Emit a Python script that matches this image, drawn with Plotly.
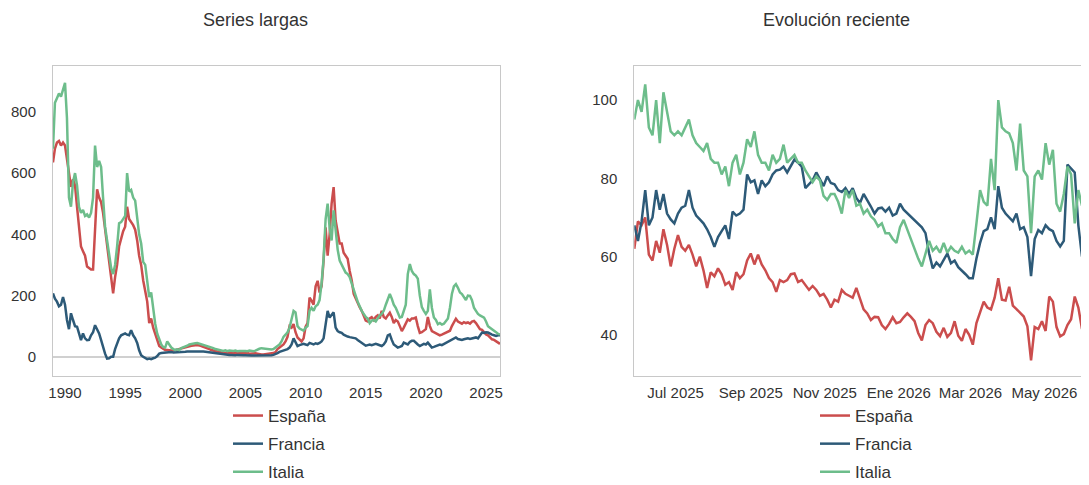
import pandas as pd
import plotly.graph_objects as go

# ---------------- data: long series (bi-monthly, Jan 1989 .. Mar 2026) ----------------
long_start = "1989-01-01"
long_freq = "2MS"

espana_long = [
    635, 680, 700, 705, 690, 700,      # 1989
    690, 640, 590, 555, 580, 560,      # 1990
    490, 420, 360, 345, 330, 295,      # 1991
    290, 285, 285, 400, 547, 520,      # 1992
    505, 470, 420, 360, 315, 270,      # 1993
    207, 260, 300, 360, 390, 410,      # 1994
    425, 490, 450, 440, 430, 415,      # 1995
    380, 330, 300, 250, 207, 180,      # 1996
    110, 125, 95, 76, 55, 35,          # 1997
    30, 25, 22, 22, 20, 20,            # 1998
    20, 22, 24, 26, 28, 30,            # 1999
    30, 32, 34, 36, 37, 38,            # 2000
    38, 37, 35, 33, 30, 27,            # 2001
    25, 22, 20, 18, 16, 15,            # 2002
    14, 13, 13, 12, 13, 12,            # 2003
    12, 12, 11, 12, 12, 11,            # 2004
    11, 12, 10, 11, 10, 11,            # 2005
    10, 8, 7, 7, 8, 7,                 # 2006
    8, 9, 12, 15, 25, 30,              # 2007
    35, 40, 50, 65, 100, 95,           # 2008
    107, 80, 63, 55, 50, 60,           # 2009
    98, 110, 193, 183, 170, 230,       # 2010
    248, 210, 230, 314, 423, 330,      # 2011
    400, 500, 554, 445, 400, 370,      # 2012
    370, 340, 330, 320, 280, 250,      # 2013
    205, 190, 175, 162, 150, 135,      # 2014
    118, 115, 125, 129, 120, 130,      # 2015
    135, 125, 150, 130, 125, 135,      # 2016
    144, 130, 110, 120, 115, 100,      # 2017
    84, 95, 110, 122, 118, 125,        # 2018
    125, 128, 100, 78, 80, 85,         # 2019
    90, 130, 100, 84, 80, 75,          # 2020
    73, 70, 72, 75, 78, 80,            # 2021
    85, 100, 110, 124, 115, 110,       # 2022
    108, 113, 110, 112, 108, 115,      # 2023
    117, 110, 100, 90, 88, 80,         # 2024
    73, 70, 65, 57, 55, 50,            # 2025
    46, 42,                            # 2026
]

francia_long = [
    207, 190, 180, 165, 170, 195,      # 1989
    170, 120, 90, 142, 120, 100,       # 1990
    98, 80, 54, 76, 60, 54,            # 1991
    55, 70, 80, 103, 90, 76,           # 1992
    54, 30, 10, -6, -5, 0,             # 1993
    0, 25, 45, 60, 70, 72,             # 1994
    76, 72, 70, 87, 70, 60,            # 1995
    45, 21, 5, 0, -5, -8,              # 1996
    -6, -8, -5, -3, 2, 10,             # 1997
    12, 13, 14, 14, 15, 15,            # 1998
    14, 14, 15, 15, 16, 16,            # 1999
    16, 17, 17, 18, 18, 19,            # 2000
    19, 19, 18, 17, 16, 15,            # 2001
    14, 13, 12, 11, 10, 9,             # 2002
    8, 7, 7, 6, 6, 6,                  # 2003
    5, 5, 6, 5, 5, 5,                  # 2004
    5, 4, 5, 4, 4, 4,                  # 2005
    4, 3, 3, 4, 3, 3,                  # 2006
    4, 5, 6, 8, 12, 16,                # 2007
    18, 20, 22, 25, 30, 40,            # 2008
    60, 45, 35, 38, 40, 42,            # 2009
    40, 38, 45, 42, 40, 44,            # 2010
    42, 45, 50, 60, 110, 150,          # 2011
    128, 135, 145, 95, 84, 80,         # 2012
    78, 72, 68, 66, 64, 63,            # 2013
    63, 60, 55, 50, 45, 40,            # 2014
    36, 38, 40, 38, 40, 42,            # 2015
    40, 38, 35, 40, 50, 70,            # 2016
    73, 55, 40, 35, 30, 32,            # 2017
    35, 46, 44, 40, 48, 52,            # 2018
    52, 45, 40, 35, 38, 42,            # 2019
    40, 46, 38, 30, 32, 35,            # 2020
    36, 40, 38, 42, 45, 48,            # 2021
    52, 55, 60, 63, 58, 57,            # 2022
    55, 57, 58, 60, 58, 60,            # 2023
    62, 63, 60, 70, 79, 78,            # 2024
    80, 79, 75, 72, 70, 68,            # 2025
    70, 70,                            # 2026
]

italia_long = [
    680, 830, 845, 860, 850, 875,      # 1989
    895, 780, 520, 490, 570, 600,      # 1990
    560, 490, 470, 480, 460, 465,      # 1991
    455, 470, 520, 690, 620, 640,      # 1992
    620, 520, 425, 380, 330, 290,      # 1993
    270, 300, 360, 436, 440, 450,      # 1994
    460, 600, 540, 545, 520, 510,      # 1995
    460, 400, 370, 310, 300, 240,      # 1996
    195, 210, 150, 108, 75, 55,        # 1997
    40, 32, 30, 50, 40, 30,            # 1998
    25, 22, 24, 22, 28, 30,            # 1999
    33, 36, 40, 42, 43, 44,            # 2000
    45, 43, 42, 40, 38, 35,            # 2001
    32, 30, 28, 25, 24, 22,            # 2002
    20, 19, 21, 18, 20, 19,            # 2003
    19, 20, 18, 19, 20, 19,            # 2004
    19, 18, 20, 19, 18, 20,            # 2005
    24, 26, 28, 27, 26, 27,            # 2006
    26, 24, 25, 30, 38, 40,            # 2007
    50, 65, 72, 80, 95, 120,           # 2008
    150, 145, 100, 92, 88, 85,         # 2009
    95, 100, 150, 160, 150, 165,       # 2010
    170, 185, 240, 320, 450, 500,      # 2011
    420, 380, 478, 400, 350, 314,      # 2012
    300, 290, 275, 270, 260, 240,      # 2013
    215, 200, 180, 162, 150, 140,      # 2014
    130, 125, 110, 118, 120, 115,      # 2015
    125, 135, 140, 150, 170, 185,      # 2016
    205, 190, 170, 160, 140, 128,      # 2017
    130, 150, 170, 270, 303, 280,      # 2018
    270, 265, 255, 200, 162, 150,      # 2019
    140, 150, 220, 160, 128, 120,      # 2020
    106, 110, 105, 108, 117, 125,      # 2021
    160, 205, 230, 237, 225, 210,      # 2022
    205, 195, 185, 200, 199, 185,      # 2023
    160, 150, 140, 135, 130, 128,      # 2024
    115, 100, 95, 90, 85, 78,          # 2025
    75, 72,                            # 2026
]

# ---------------- data: recent series (every 3 days from 28 May 2025) ----------------
recent_start = "2025-05-28"
recent_freq = "3D"

espana_recent = [
    62, 69, 68, 70, 60.5, 59, 64, 61, 67, 63,
    57.5, 62, 65.5, 62.5, 61.5, 63, 60.5, 57.5, 60, 56.5,
    52, 56, 55, 57, 55.5, 52.8, 53.5, 51.5, 56, 54.5,
    55.5, 59, 60.8, 58, 60.5, 58, 56.5, 54.5, 53.5, 51,
    54, 53.5, 54, 55.5, 55.7, 53.5, 54, 52.8, 51.5, 52.5,
    51.5, 50, 50.5, 49, 47, 49, 48.5, 51.5, 50.5, 50,
    49.5, 52, 49.5, 46.5, 45.5, 43.8, 44.6, 44.5, 42.5, 41.5,
    42.8, 44.5, 43, 43.3, 44.5, 45.5, 44.6, 43.5, 40.5, 38.6,
    42.5, 43.8, 43, 40.8, 39.7, 41.8, 39.5, 40.5, 43.5, 39.8,
    38.5, 41.5, 40, 37.5, 43, 46, 48.5, 47, 46.5, 49.5,
    54.5, 49, 48.8, 52.3, 47.5, 46.6, 45.7, 44.7, 42.2, 33.5,
    42, 41.5, 43.5, 41, 49.8, 48.5, 42, 39.6, 40.2, 42.5,
    44, 49.8, 47, 41.5,
]

francia_recent = [
    68, 64, 69, 77, 68, 70, 77, 72, 76, 71,
    69.5, 68.5, 71, 72.5, 73, 77, 72.5, 70.5, 69.5, 68.5,
    67, 65, 62.5, 65, 66.5, 68, 64.5, 71.5, 70.5, 71,
    72, 81, 79, 79.5, 76, 79.5, 78, 79, 81, 82,
    82.2, 83, 81.5, 83, 84.8, 84, 83, 77.5, 78.5, 79.5,
    81.5, 79.7, 78, 80.5, 78.8, 78.5, 77, 76.5, 77.5, 76,
    77.5, 75, 73.7, 76, 74.5, 72.8, 71, 72.3, 72.5, 71.5,
    72.5, 70.5, 71, 73.5, 72, 71.1, 70.3, 69.3, 68.3, 67.5,
    66, 60.8, 57, 58.5, 57.5, 59, 60.8, 58.3, 59, 57.3,
    56.5, 55.5, 54.5, 54.5, 59.5, 63.5, 66.5, 67, 70, 67,
    78, 72.5, 71, 70, 69, 71, 67, 67.5, 65, 55,
    64.5, 66.8, 66, 68, 67, 66.5, 64, 62.6, 64, 83.5,
    82.5, 81.5, 68, 60,
]

italia_recent = [
    95, 100, 97, 104, 93, 91, 100, 89, 102, 97,
    92, 91, 92, 91, 93, 95, 91, 89, 88, 87,
    89, 85, 84, 84, 81, 83, 78, 84, 86, 81,
    84, 90, 88, 92, 86, 84, 84, 82, 86, 84,
    85, 88.6, 84, 85, 86, 84, 84, 82, 80.5, 79,
    80.5, 79.5, 75.5, 74.5, 76, 76, 74, 71, 77, 75,
    77, 73, 73.5, 71, 72, 70.3, 69.4, 67.7, 68.5, 66,
    66, 64.5, 63.5, 67.5, 69.4, 66.8, 64.3, 62, 59.5, 57.5,
    60.5, 64, 61.5, 62.5, 61, 63.5, 61, 62.5, 61.5, 61,
    62.5, 60.8, 61.5, 60.5, 68.5, 77, 74, 73, 85, 77,
    100, 93, 92, 91.5, 89, 82, 94, 82, 80.5, 66,
    80.5, 82, 79.7, 89, 83.5, 87.3, 73.5, 71.5, 76, 83,
    81, 68.5, 77, 73,
]

# ---------------- labels ----------------
series_names = ["España", "Francia", "Italia"]
series_colors = ["#cb4d4d", "#2d5a78", "#6dbd8b"]

long_tick_years = [1990, 1995, 2000, 2005, 2010, 2015, 2020, 2025]
recent_tick_dates = ["2025-07-01", "2025-09-01", "2025-11-01", "2026-01-01", "2026-03-01", "2026-05-01"]
recent_tick_labels = ["Jul 2025", "Sep 2025", "Nov 2025", "Ene 2026", "Mar 2026", "May 2026"]
left_yticks = [0, 200, 400, 600, 800]
right_yticks = [40, 60, 80, 100]

titles = ["Series largas", "Evolución reciente"]

# ---------------- build ----------------
x_long = pd.date_range(long_start, periods=len(espana_long), freq=long_freq)
x_recent = pd.date_range(recent_start, periods=len(espana_recent), freq=recent_freq)

long_vals = [espana_long, francia_long, italia_long]
recent_vals = [espana_recent, francia_recent, italia_recent]

FONT = "Liberation Sans, Arial, sans-serif"
TXT = "#333333"
FRAME = "#c8c8c8"

fig = go.Figure()
for name, col, vals in zip(series_names, series_colors, long_vals):
    fig.add_trace(go.Scatter(x=x_long, y=vals, mode="lines", name=name,
                             line=dict(color=col, width=2.5),
                             xaxis="x", yaxis="y", legend="legend",
                             legendgroup="L" + name))
for name, col, vals in zip(series_names, series_colors, recent_vals):
    fig.add_trace(go.Scatter(x=x_recent, y=vals, mode="lines", name=name,
                             line=dict(color=col, width=2.5),
                             xaxis="x2", yaxis="y2", legend="legend2",
                             legendgroup="R" + name))

# the page body adds an 8px offset, so the figure is laid out 8px smaller
W, H = 1081, 477
ml, mr, mt, mb = 45, 7, 58, 109
pw = W - ml - mr
ph = H - mt - mb
d1 = [0, (492 - ml) / pw]
d2 = [(626.3 - ml) / pw, 1.0]

axis_common = dict(showline=True, mirror=True, linecolor=FRAME, linewidth=1,
                   showgrid=False, ticks="outside", tickcolor="rgba(0,0,0,0)",
                   automargin=False,
                   tickfont=dict(family=FONT, size=15, color=TXT))

legend_common = dict(orientation="v", xanchor="center", yanchor="top",
                     xref="container", yref="container",
                     y=1 - 390 / H, bgcolor="rgba(0,0,0,0)",
                     font=dict(family=FONT, size=17, color=TXT),
                     traceorder="grouped", tracegroupgap=3)

fig.update_layout(
    width=W, height=H,
    margin=dict(l=ml, r=mr, t=mt, b=mb, autoexpand=False),
    paper_bgcolor="white", plot_bgcolor="white",
    font=dict(family=FONT, color=TXT),
    xaxis=dict(domain=d1, anchor="y",
               tickvals=[pd.Timestamp(f"{y}-01-01") for y in long_tick_years],
               ticktext=[str(y) for y in long_tick_years],
               ticklen=3, **axis_common),
    yaxis=dict(domain=[0, 1], anchor="x", range=[-63, 950],
               tickvals=left_yticks, ticklen=13,
               zeroline=True, zerolinecolor="#d0d0d0", zerolinewidth=2,
               **axis_common),
    xaxis2=dict(domain=d2, anchor="y2",
                tickvals=[pd.Timestamp(d) for d in recent_tick_dates],
                ticktext=recent_tick_labels, ticklen=3, **axis_common),
    yaxis2=dict(domain=[0, 1], anchor="x2", range=[29.5, 108.7],
                tickvals=right_yticks, ticklen=13, zeroline=False,
                **axis_common),
    legend=dict(x=272 / W, **legend_common),
    legend2=dict(x=859 / W, **legend_common),
    showlegend=True,
)

for title, cx in zip(titles, [247, 828]):
    fig.add_annotation(text=title, xref="paper", yref="paper",
                       x=(cx - ml) / pw, y=1 + (mt - 1) / ph,
                       xanchor="center", yanchor="top", showarrow=False,
                       borderpad=0,
                       font=dict(family=FONT, size=18, color=TXT))

fig.write_html("out.html")
